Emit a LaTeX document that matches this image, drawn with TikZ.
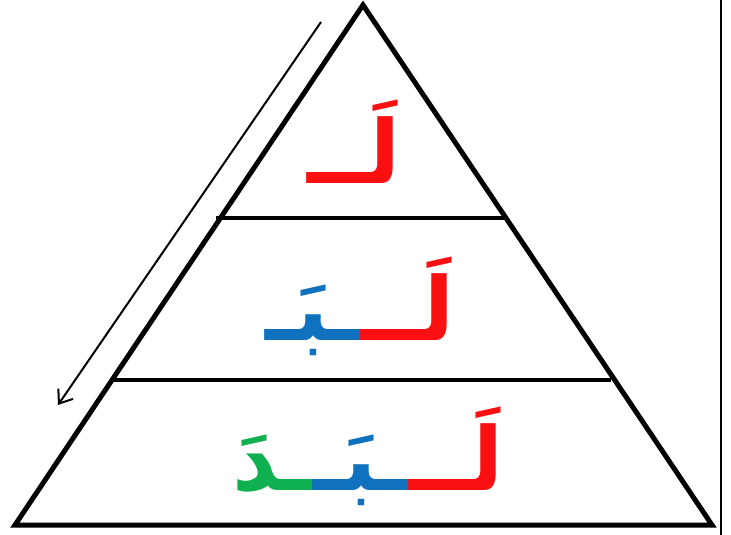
\documentclass[tikz,border=0pt]{standalone}
\usepackage{fontspec}
\usetikzlibrary{arrows.meta}
\newfontfamily\arabicfont[Script=Arabic]{DejaVu Sans}
\TeXXeTstate=1
\definecolor{lamred}{RGB}{250,16,16}
\definecolor{bablue}{RGB}{16,113,190}
\definecolor{dalgreen}{RGB}{14,176,80}

\begin{document}
\begin{tikzpicture}[x=1pt, y=-1pt, line width=5pt, line join=miter,
    word/.style = {font=\arabicfont\bfseries\fontsize{88}{88}\selectfont, inner sep=0pt, anchor=base},
    >={Straight Barb[length=12pt, width=18pt]}]
    \useasboundingbox (0,0) rectangle (731,535);
    % pyramid
    \coordinate (apex) at (363,5);
    \coordinate (bl) at (15,525);
    \coordinate (br) at (712,525);
    \draw (apex) -- (br) -- (bl) -- cycle;
    \draw[line width=4pt] (216,218) -- (505,218);
    \draw[line width=4pt] (112,380) -- (611,380);
    % right border
    \draw[line width=2.5pt] (721,0) -- (721,535);
    % direction arrow
    \coordinate (s) at (321,22);
    \coordinate (e) at (58,405);
    \draw[->, line width=2pt] (s) -- (e);
    % words
    \node[word] (w1) at (354,183) {\textcolor{lamred}{\beginR لَــ\endR}};
    \node[word] (w2) at (360,340) {\textcolor{bablue}{\beginR ـبَـ\endR}\textcolor{lamred}{\beginR لَــ\endR}};
    \node[word] (w3) at (368,490) {\textcolor{dalgreen}{\beginR ـدَ\endR}\textcolor{bablue}{\beginR ـبَـ\endR}\textcolor{lamred}{\beginR لَــ\endR}};
\end{tikzpicture}
\end{document}
